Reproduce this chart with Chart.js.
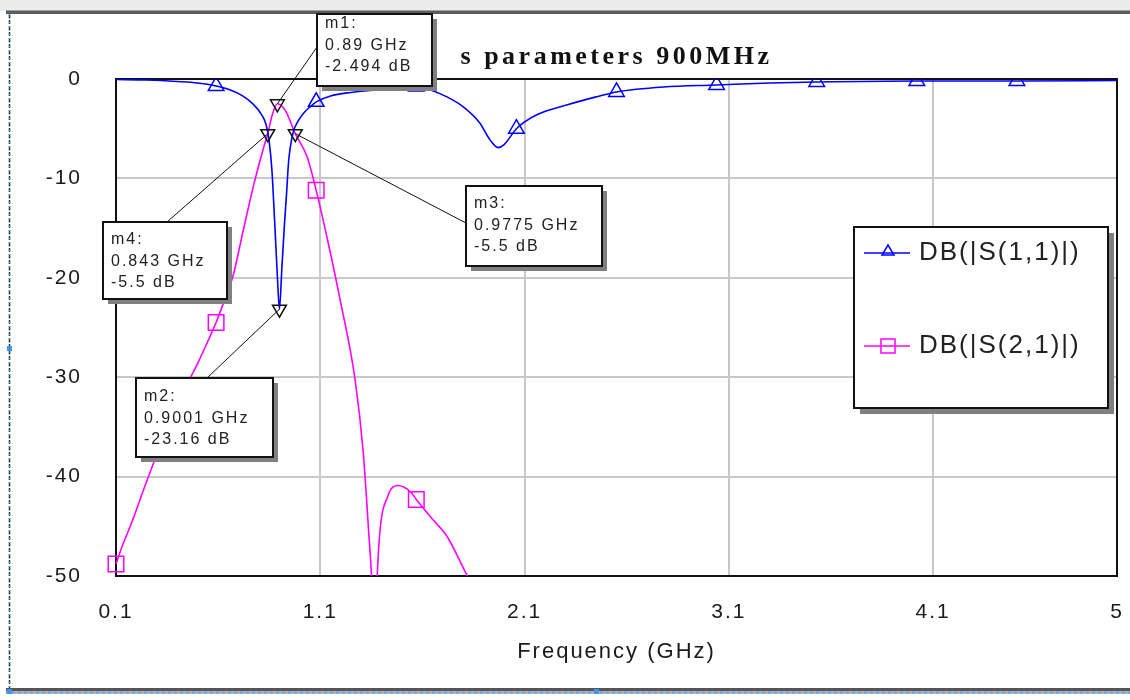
<!DOCTYPE html>
<html>
<head>
<meta charset="utf-8">
<title>s parameters 900MHz</title>
<script src="https://cdn.jsdelivr.net/npm/chart.js@4.4.1/dist/chart.umd.min.js"></script>
<style>
  html, body { margin: 0; padding: 0; background: #fff; }
  #wrap { position: relative; width: 1130px; height: 700px; }
</style>
</head>
<body>
<div id="wrap"><canvas id="chart" width="1130" height="700"></canvas></div>
<script>
// curve data (GHz / dB)
const s11Freq = [0.1, 0.25, 0.4, 0.5, 0.59, 0.66, 0.72, 0.77, 0.81, 0.835, 0.85, 0.863, 0.878, 0.89, 0.9001, 0.912, 0.925, 0.935, 0.945, 0.967, 0.99, 1.02, 1.05, 1.08, 1.15, 1.25, 1.38, 1.5, 1.57, 1.64, 1.72, 1.8, 1.88, 1.93, 1.97, 2.0, 2.06, 2.16, 2.31, 2.45, 2.55, 2.78, 3.04, 3.3, 3.53, 4.02, 4.51, 5.0];
const s11Db = [-0.05, -0.1, -0.25, -0.4, -0.7, -1.1, -1.7, -2.5, -3.5, -4.6, -6.3, -9.1, -14.9, -19.9, -23.16, -19.0, -14.5, -11.5, -8.3, -5.4, -4.3, -3.4, -2.8, -2.3, -1.7, -1.35, -1.1, -0.9, -0.75, -1.1, -1.8, -2.8, -4.4, -6.1, -6.9, -6.6, -5.0, -3.6, -2.6, -1.8, -1.3, -0.8, -0.6, -0.4, -0.3, -0.2, -0.2, -0.15];

const s21Freq = [0.1, 0.125, 0.183, 0.23, 0.29, 0.35, 0.42, 0.5, 0.56, 0.59, 0.63, 0.673, 0.72, 0.77, 0.82, 0.843, 0.865, 0.89, 0.93, 0.9775, 1.035, 1.08, 1.14, 1.2, 1.27, 1.31, 1.335, 1.355, 1.365, 1.375, 1.39, 1.43, 1.48, 1.54, 1.57, 1.65, 1.72, 1.82, 1.9];
const s21Db = [-48.8, -47.3, -44.3, -41.6, -38.3, -35.2, -31.8, -28.6, -25.9, -24.5, -22.3, -19.8, -15.5, -11.0, -7.1, -5.5, -3.6, -2.494, -3.2, -5.5, -7.8, -11.2, -16.6, -22.5, -30.2, -37.5, -45, -52, -60, -52, -46, -42, -40.9, -41.5, -42.3, -44.3, -46, -50, -53];

// where the trace symbols sit
const s11SymbolFreq = [0.59, 1.08, 1.57, 2.06, 2.55, 3.04, 3.53, 4.02, 4.51];
const s21SymbolFreq = [0.1, 0.59, 1.08, 1.57];

const seriesNames = ['DB(|S(1,1)|)', 'DB(|S(2,1)|)'];

// markers m1..m4
const markerNames = ['m1', 'm2', 'm3', 'm4'];
const markerFreq = [0.89, 0.9001, 0.9775, 0.843];
const markerDb = [-2.494, -23.16, -5.5, -5.5];

const xTicks = [0.1, 1.1, 2.1, 3.1, 4.1, 5];
const yMin = -50, yMax = 0, yStep = 10;

const FONT = '"Liberation Sans", Arial, sans-serif';
Chart.defaults.font.family = FONT;
Chart.defaults.color = '#1a1a1a';

// marker label boxes (layout only)
const markerBoxes = [
    { x: 317, y: 14, w: 115, h: 72, ax: 317, ay: 47, t: 10 },
    { x: 136, y: 378, w: 137, h: 79, ax: 207, ay: 378, t: 19 },
    { x: 466, y: 186, w: 136, h: 80, ax: 466, ay: 223, t: 18 },
    { x: 103, y: 222, w: 124, h: 77, ax: 167, ay: 222, t: 18 }
];

function shadowBox(ctx, x, y, w, h, off) {
    ctx.fillStyle = '#808080';
    ctx.fillRect(x + off, y + off, w, h);
    ctx.fillStyle = '#fff';
    ctx.fillRect(x, y, w, h);
    ctx.strokeStyle = '#111';
    ctx.lineWidth = 2;
    ctx.strokeRect(x, y, w, h);
}

const framePlugin = {
    id: 'frame',
    beforeDraw(chart) {
        const ctx = chart.ctx;
        ctx.save();
        ctx.fillStyle = '#fff';
        ctx.fillRect(0, 0, 1130, 700);
        ctx.fillStyle = '#ececec';
        ctx.fillRect(0, 0, 1130, 11);
        ctx.fillStyle = '#a0a0a0';
        ctx.fillRect(6, 10, 1124, 1);
        ctx.fillStyle = '#5c5c5c';
        ctx.fillRect(6, 11, 1124, 3);
        // left edge
        ctx.lineWidth = 1.5;
        ctx.strokeStyle = '#333';
        ctx.setLineDash([4, 2]);
        ctx.beginPath(); ctx.moveTo(9.5, 14); ctx.lineTo(9.5, 689); ctx.stroke();
        ctx.strokeStyle = '#4da6ff';
        ctx.setLineDash([1, 3]);
        ctx.beginPath(); ctx.moveTo(9.5, 14); ctx.lineTo(9.5, 689); ctx.stroke();
        // bottom edge
        ctx.setLineDash([]);
        ctx.fillStyle = '#555';
        ctx.fillRect(6, 688, 1124, 3);
        ctx.fillStyle = '#b0b0b0';
        ctx.fillRect(6, 691, 1124, 3);
        ctx.strokeStyle = '#4da6ff';
        ctx.setLineDash([3, 3]);
        ctx.beginPath(); ctx.moveTo(6, 692.5); ctx.lineTo(1130, 692.5); ctx.stroke();
        ctx.setLineDash([]);
        ctx.fillStyle = '#3d95f0';
        ctx.fillRect(7, 346, 5, 5);
        ctx.fillRect(7, 689, 5, 5);
        ctx.fillRect(594, 689, 5, 5);
        ctx.restore();
        ctx.letterSpacing = '2px';
    },
    beforeDatasetsDraw(chart) {
        const { ctx, chartArea: a } = chart;
        ctx.save();
        ctx.strokeStyle = '#111';
        ctx.lineWidth = 2;
        ctx.beginPath();
        ctx.moveTo(a.left, a.top);
        ctx.lineTo(a.right, a.top);
        ctx.lineTo(a.right, a.bottom);
        ctx.stroke();
        ctx.restore();
    },
    afterDraw(chart) {
        const { ctx, chartArea: a, scales } = chart;
        ctx.save();

        // title
        ctx.letterSpacing = '3.5px';
        ctx.font = 'bold 26px "Liberation Serif", "Times New Roman", serif';
        ctx.fillStyle = '#111';
        ctx.textAlign = 'center';
        ctx.textBaseline = 'middle';
        ctx.fillText('s parameters 900MHz', (a.left + a.right) / 2, 57);

        // marker leaders + boxes
        ctx.letterSpacing = '2px';
        markerNames.forEach((name, i) => {
            const b = markerBoxes[i];
            const px = scales.x.getPixelForValue(markerFreq[i]);
            const py = scales.y.getPixelForValue(markerDb[i]);
            ctx.strokeStyle = '#111';
            ctx.lineWidth = 1;
            ctx.beginPath();
            ctx.moveTo(px, py);
            ctx.lineTo(b.ax, b.ay);
            ctx.stroke();
            shadowBox(ctx, b.x, b.y, b.w, b.h, 5);
            ctx.fillStyle = '#222';
            ctx.font = '16px ' + FONT;
            ctx.textAlign = 'left';
            ctx.textBaseline = 'middle';
            const lines = [name + ':', markerFreq[i] + ' GHz', markerDb[i] + ' dB'];
            lines.forEach((t, k) => ctx.fillText(t, b.x + 8, b.y + b.t + k * 21.5));
        });

        // legend
        shadowBox(ctx, 854, 227, 254, 181, 6);
        const legendRows = [
            { y: 253, color: '#0000ff', shape: 'triangle' },
            { y: 346, color: '#ff00ff', shape: 'square' }
        ];
        legendRows.forEach((r, i) => {
            ctx.strokeStyle = r.color;
            ctx.lineWidth = 1.5;
            ctx.beginPath();
            ctx.moveTo(864, r.y);
            ctx.lineTo(910, r.y);
            ctx.stroke();
            ctx.beginPath();
            if (r.shape === 'triangle') {
                ctx.moveTo(888, r.y - 8);
                ctx.lineTo(894, r.y + 2);
                ctx.lineTo(882, r.y + 2);
                ctx.closePath();
            } else {
                ctx.rect(881, r.y - 7, 14, 14);
            }
            ctx.stroke();
            ctx.fillStyle = '#222';
            ctx.font = '26px ' + FONT;
            ctx.letterSpacing = '2px';
            ctx.textAlign = 'left';
            ctx.textBaseline = 'middle';
            ctx.fillText(seriesNames[i], 919, r.y);
        });
        ctx.restore();
    }
};

const s11Points = s11Freq.map((f, i) => ({ x: f, y: s11Db[i] }));
const s21Points = s21Freq.map((f, i) => ({ x: f, y: s21Db[i] }));
const markerPoints = markerFreq.map((f, i) => ({ x: f, y: markerDb[i] }));

new Chart(document.getElementById('chart'), {
    type: 'line',
    data: {
        datasets: [
            {
                label: 'markers',
                type: 'scatter',
                data: markerPoints,
                order: 0,
                showLine: false,
                pointStyle: 'triangle',
                rotation: 180,
                pointRadius: 8,
                pointBorderWidth: 1.5,
                pointBorderColor: '#111',
                pointBackgroundColor: 'rgba(0,0,0,0)'
            },
            {
                label: seriesNames[0],
                data: s11Points,
                order: 1,
                borderColor: '#0000ff',
                borderWidth: 1.6,
                cubicInterpolationMode: 'monotone',
                pointStyle: 'triangle',
                pointRadius: ctx => s11SymbolFreq.includes(s11Freq[ctx.dataIndex]) ? 9 : 0,
                pointBorderColor: '#0000ff',
                pointBorderWidth: 1.5,
                pointBackgroundColor: 'rgba(0,0,0,0)',
                fill: false
            },
            {
                label: seriesNames[1],
                data: s21Points,
                order: 2,
                borderColor: '#ff00ff',
                borderWidth: 1.6,
                cubicInterpolationMode: 'monotone',
                pointStyle: 'rect',
                pointRadius: ctx => s21SymbolFreq.includes(s21Freq[ctx.dataIndex]) ? 11 : 0,
                pointBorderColor: '#ff00ff',
                pointBorderWidth: 1.5,
                pointBackgroundColor: 'rgba(0,0,0,0)',
                clip: { left: 12, top: 0, right: 0, bottom: 0 },
                fill: false
            }
        ]
    },
    options: {
        responsive: false,
        animation: false,
        devicePixelRatio: 1,
        events: [],
        layout: { padding: { left: 0, right: 13, top: 79, bottom: 0 } },
        plugins: {
            legend: { display: false },
            title: { display: false },
            tooltip: { enabled: false }
        },
        scales: {
            x: {
                type: 'linear',
                min: xTicks[0],
                max: xTicks[xTicks.length - 1],
                afterBuildTicks: s => { s.ticks = xTicks.map(v => ({ value: v })); },
                afterFit: s => { s.height = 124; s.paddingLeft = 0; s.paddingRight = 0; },
                grid: { color: '#c8c8c8', lineWidth: 2, drawTicks: false },
                border: { color: '#111', width: 2 },
                ticks: {
                    autoSkip: false,
                    maxRotation: 0,
                    padding: 24,
                    font: { size: 21 },
                    color: '#1a1a1a',
                    callback: v => String(v)
                },
                title: {
                    display: true,
                    text: 'Frequency (GHz)',
                    font: { size: 22 },
                    color: '#1a1a1a',
                    padding: { top: 0, bottom: 35 }
                }
            },
            y: {
                min: yMin,
                max: yMax,
                afterFit: s => { s.width = 116; s.paddingTop = 0; s.paddingBottom = 0; },
                grid: { color: '#c8c8c8', lineWidth: 2, drawTicks: false },
                border: { color: '#111', width: 2 },
                ticks: {
                    stepSize: yStep,
                    padding: 34,
                    font: { size: 21 },
                    color: '#1a1a1a'
                }
            }
        }
    },
    plugins: [framePlugin]
});
</script>
</body>
</html>
